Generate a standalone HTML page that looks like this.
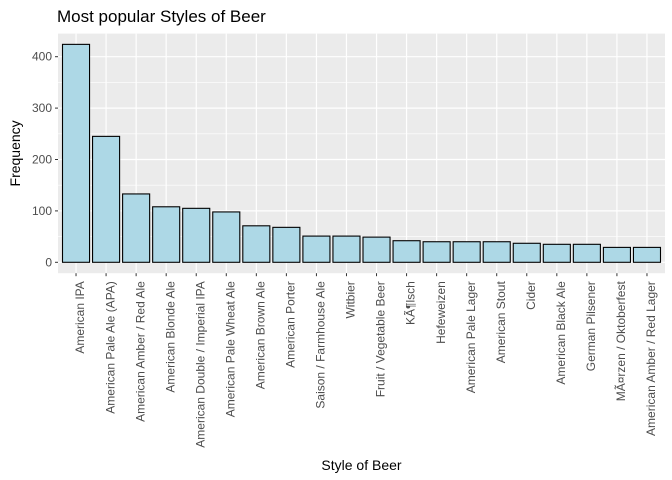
<!DOCTYPE html>
<html><head><meta charset="utf-8"><style>
body{margin:0;background:#fff;}
svg{display:block;font-family:"Liberation Sans",Arial,sans-serif;}
</style></head><body>
<svg id="chart" width="672" height="480"></svg>
<script>
const categories=["American IPA","American Pale Ale (APA)","American Amber / Red Ale","American Blonde Ale","American Double / Imperial IPA","American Pale Wheat Ale","American Brown Ale","American Porter","Saison / Farmhouse Ale","Witbier","Fruit / Vegetable Beer","KÃ¶lsch","Hefeweizen","American Pale Lager","American Stout","Cider","American Black Ale","German Pilsener","MÃ¤rzen / Oktoberfest","American Amber / Red Lager"];
const values=[424,245,133,108,105,98,71,68,51,51,49,42,40,40,40,37,35,35,29,29];
const yTicks=[0,100,200,300,400];

const NS="http://www.w3.org/2000/svg";
const svg=document.getElementById('chart');
const L=58,R=665,T=33.6;
const y0=262.3, k=0.514;
function y(v){return y0-v*k;}
const step=(R-L)/(categories.length+0.2);
function x(i){return L+step*(0.6+i);}
const B=y(-values.reduce((a,b)=>Math.max(a,b),0)*0.05);
function el(tag,attrs,parent){const e=document.createElementNS(NS,tag);for(const a in attrs)e.setAttribute(a,attrs[a]);(parent||svg).appendChild(e);return e;}

const panel=el('rect',{x:L,y:T,width:R-L,height:B-T,fill:'#ebebeb'});


for(let i=0;i<yTicks.length-1;i++){
  const v=(yTicks[i]+yTicks[i+1])/2;
  const g=el('line',{x1:L,x2:R,y1:y(v),y2:y(v),stroke:'#fff','stroke-width':0.6});
  
  
}
yTicks.forEach(v=>{
  const g=el('line',{x1:L,x2:R,y1:y(v),y2:y(v),stroke:'#fff','stroke-width':1.2});
  
  
  const tk=el('line',{x1:L-3,x2:L,y1:y(v),y2:y(v),stroke:'#333','stroke-width':1});
  
  
  const t=el('text',{x:L-6,y:y(v)+4,'text-anchor':'end','font-size':12,fill:'#4d4d4d'});
  t.textContent=v;
  
  
});
categories.forEach((c,i)=>{
  const cx=x(i);
  const g=el('line',{x1:cx,x2:cx,y1:T,y2:B,stroke:'#fff','stroke-width':1.2});
  
  
});
categories.forEach((c,i)=>{
  const cx=x(i),w=step*0.9;
  const b=el('rect',{x:cx-w/2,y:y(values[i]),width:w,height:y(0)-y(values[i]),fill:'#add8e6',stroke:'#000','stroke-width':1.1});
  
  
  const tk=el('line',{x1:cx,x2:cx,y1:B,y2:B+3,stroke:'#333','stroke-width':1});
  
  
  const t=el('text',{x:0,y:0,'text-anchor':'end','font-size':12,fill:'#4d4d4d',transform:`translate(${cx+5},${B+8}) rotate(-90)`,'dominant-baseline':'middle'});
  t.textContent=c;
  
  
});
const title=el('text',{x:57,y:22,'font-size':17,fill:'#000'});
title.textContent='Most popular Styles of Beer';


const xt=el('text',{x:(L+R)/2,y:470,'text-anchor':'middle','font-size':14,fill:'#000'});
xt.textContent='Style of Beer';


const yt=el('text',{x:0,y:0,'text-anchor':'middle','font-size':14,fill:'#000',transform:`translate(20,${(T+B)/2}) rotate(-90)`});
yt.textContent='Frequency';


</script>
</body></html>
